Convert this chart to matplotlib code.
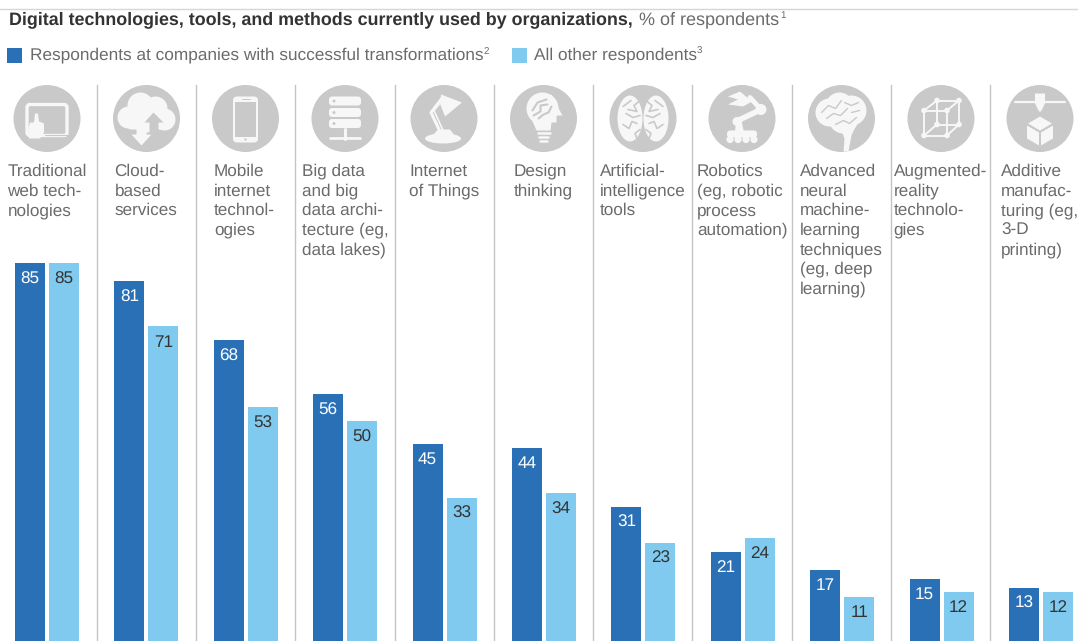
# -*- coding: utf-8 -*-
"""
Digital technologies in use, split by transformation success.
Grouped bars below a row of icon badges and wrapped column headings.
"""
from matplotlib import pyplot as plt
from matplotlib.patches import Circle, Ellipse, FancyBboxPatch, Polygon, Rectangle

CATEGORIES = ['Traditional\nweb tech-\nnologies',
              'Cloud-\nbased\nservices',
              'Mobile\ninternet\ntechnol-\nogies',
              'Big data\nand big\ndata archi-\ntecture (eg,\ndata lakes)',
              'Internet\nof Things',
              'Design\nthinking',
              'Artificial-\nintelligence\ntools',
              'Robotics\n(eg, robotic\nprocess\nautomation)',
              'Advanced\nneural\nmachine-\nlearning\ntechniques\n(eg, deep\nlearning)',
              'Augmented-\nreality\ntechnolo-\ngies',
              'Additive\nmanufac-\nturing (eg,\n3-D\nprinting)']
SUCCESSFUL = [85, 81, 68, 56, 45, 44, 31, 21, 17, 15, 13]
OTHERS = [85, 71, 53, 50, 33, 34, 23, 24, 11, 12, 12]

DARK = '#2a70b6'
LIGHT = '#7fcaee'
BADGE = '#c9c9c9'
GREY_TEXT = '#6b6b6b'
RULE = '#c4c4c4'
WHITE = '#f7f7f7'

LABEL_X = [7.5, 114.5, 214, 301.5, 409, 514, 599.5, 697, 799.5, 893.5, 1001]
BADGE_X = [47, 146.5, 245.5, 345, 444, 543.5, 643, 742, 841.5, 941, 1040]
SEPARATOR_X = [96.5, 196, 295, 394.5, 493.5, 593, 692, 791.5, 891, 990]

plt.rcParams['font.family'] = ['Liberation Sans', 'DejaVu Sans']
plt.rcParams['text.hinting'] = 'no_hinting'
plt.rcParams['text.hinting_factor'] = 8
fig = plt.figure(figsize=(10.78, 6.41), dpi=100)

# bars live on a value scale, 4.5 px per percentage point
ax = fig.add_axes([0, 0, 1, 1])
ax.set_xlim(0, 1078)
ax.set_ylim(5 / 4.5, 646 / 4.5)
ax.axis('off')

# overlay in pixel units for headings and badges
top = fig.add_axes([0, 0, 1, 1], facecolor='none')
top.set_xlim(0, 1078)
top.set_ylim(641, 0)
top.axis('off')


def line(cx, cy, pts, lw=2.0, color=WHITE):
    top.plot([cx + p[0] for p in pts], [cy + p[1] for p in pts], color=color,
             lw=lw, solid_capstyle='round', solid_joinstyle='round')


def poly(cx, cy, pts, color=WHITE):
    top.add_patch(Polygon([(cx + p[0], cy + p[1]) for p in pts], closed=True,
                          fc=color, ec='none'))


def blob(cx, cy, dx, dy, rad, color=WHITE):
    top.add_patch(Circle((cx + dx, cy + dy), rad, fc=color, ec='none'))


def rbox(cx, cy, x0, y0, wid, hei, fc=WHITE, ec='none', lw=0, pad=2):
    top.add_patch(FancyBboxPatch((cx + x0, cy + y0), wid, hei, fc=fc, ec=ec, lw=lw,
                                 boxstyle='round,pad=0,rounding_size=%g' % pad))


def icon_web(cx, cy):
    rbox(cx, cy, -20, -14, 40, 31, fc='none', ec=WHITE, lw=2.4, pad=3)
    poly(cx, cy, [(-17, 4), (-13, 4), (-12, -5), (-9, -5), (-8, 3), (-3, 5),
                  (-3, 14), (-7, 20), (-18, 20), (-19, 12)])
    line(cx, cy, [(-2, 16), (20, 16)], lw=0.8, color=BADGE)


def icon_cloud(cx, cy):
    for dx, dy, rad in [(-18, -1, 11), (-6, -13, 13), (9, -10, 12), (18, 1, 11),
                        (0, 0, 14)]:
        blob(cx, cy, dx, dy, rad)
    rbox(cx, cy, -19, 0, 38, 11, pad=4)
    poly(cx, cy, [(-10, 10), (-10, 16), (-15, 16), (-5, 27), (5, 16), (0, 16), (0, 10)])
    poly(cx, cy, [(7, -6), (17, 4), (12, 4), (12, 16), (3, 16), (3, 4), (-2, 4)], color=BADGE)


def icon_phone(cx, cy):
    rbox(cx, cy, -12.5, -22, 25, 46, pad=4)
    top.add_patch(Rectangle((cx - 10.5, cy - 17), 21, 35, fc=BADGE, ec='none'))
    line(cx, cy, [(-4, -19.5), (4, -19.5)], lw=0.7, color=BADGE)
    blob(cx, cy, 0, 21, 1.2, color=BADGE)


def icon_server(cx, cy):
    for y0 in (-22, -10.5, 0.5):
        rbox(cx, cy, -16, y0, 32, 9, pad=3)
        blob(cx, cy, -11, y0 + 4.5, 1.5, color=BADGE)
    line(cx, cy, [(0, 10), (0, 20)], lw=2.2)
    line(cx, cy, [(-15, 19), (15, 19)], lw=2.0)


def icon_lamp(cx, cy):
    top.add_patch(Ellipse((cx - 1, cy + 20), 36, 10, fc=WHITE, ec='none'))
    poly(cx, cy, [(-13, 19), (-6, 11), (6, 11), (12, 19)])
    line(cx, cy, [(-4, 13), (-13, -6), (-3, -19)], lw=2.2)
    line(cx, cy, [(-1, 12), (-10, -8), (0, -20)], lw=1.2)
    poly(cx, cy, [(-3, -24), (18, -16), (1, -2), (-4, -15)])


def icon_head(cx, cy):
    blob(cx, cy, -1, -10, 16)
    poly(cx, cy, [(-13, -2), (-7, 12), (7, 12), (8, 4), (13, 4), (13, -3), (19, -3),
                  (13, -14), (8, -24), (0, -10)])
    for dy in (14, 18, 22):
        line(cx, cy, [(-6 + (dy - 14) / 3, dy), (6 - (dy - 14) / 3, dy)], lw=1.8)
    for pts in ([(-11, -8), (-6, -16), (3, -19)], [(-10, -3), (-3, -7), (-3, -13), (4, -14)],
                [(-5, 0), (0, -4), (5, -6), (8, -12)]):
        line(cx, cy, pts, lw=1.5, color=BADGE)


def icon_brain(cx, cy):
    top.add_patch(Ellipse((cx - 13, cy), 25, 46, fc=WHITE, ec='none'))
    top.add_patch(Ellipse((cx + 13, cy), 25, 46, fc=WHITE, ec='none'))
    for sign in (-1, 1):
        for pts in ([(3, -18), (9, -13), (6, -7), (15, -9)], [(3, -3), (10, -1), (17, -5)],
                    [(6, 5), (11, 3), (14, 10), (20, 6)], [(3, 11), (8, 15), (6, 20)],
                    [(12, -18), (20, -12)]):
            line(cx, cy, [(sign * p[0], p[1]) for p in pts], lw=1.2, color=BADGE)


def icon_robot(cx, cy):
    for dx in (-12, -4, 4, 12):
        blob(cx, cy, dx, 21, 3.6)
    rbox(cx, cy, -15, 12, 30, 7, pad=3)
    poly(cx, cy, [(-7, 14), (-6, 1), (-1, 0), (2, 14)])
    blob(cx, cy, -5, 3, 4.5)
    line(cx, cy, [(-4, 2), (19, -9)], lw=4)
    blob(cx, cy, 19, -9, 5.5)
    line(cx, cy, [(19, -9), (8, -21)], lw=3.5)
    poly(cx, cy, [(10, -17), (-2, -27), (-14, -22), (-4, -19), (-14, -14), (1, -12)])


def icon_side_brain(cx, cy):
    for dx, dy, rad in [(-12, -6, 14), (-2, -12, 14), (10, -8, 15), (2, 0, 15)]:
        blob(cx, cy, dx, dy, rad)
    poly(cx, cy, [(0, 12), (14, 8), (10, 17), (7, 33), (2, 33), (3, 20)])
    for pts in ([(-20, -6), (-13, -13), (-6, -10), (0, -18)], [(-15, 0), (-8, -5), (-1, -3), (6, -10)],
                [(-6, 6), (2, 2), (8, 5), (15, -1)], [(3, -16), (10, -13), (17, -16)],
                [(10, -6), (18, -8)]):
        line(cx, cy, pts, lw=1.0, color=BADGE)


def icon_cube(cx, cy):
    corners = [(-12, -8), (11, -8), (11, 17), (-12, 17),
               (1, -18), (23, -18), (23, 6), (1, 6)]
    corners = [(p[0] - 5, p[1]) for p in corners]
    for i, j in [(0, 1), (1, 2), (2, 3), (3, 0), (4, 5), (5, 6), (6, 7), (7, 4),
                 (0, 4), (1, 5), (2, 6), (3, 7)]:
        line(cx, cy, [corners[i], corners[j]], lw=1.4)
    for p in corners:
        blob(cx, cy, p[0], p[1], 2.8)


def icon_printer(cx, cy):
    line(cx, cy, [(-25, -17), (25, -17)], lw=1.6)
    poly(cx, cy, [(-5, -25), (5, -25), (5, -15), (1, -7), (-1, -7), (-5, -15)])
    poly(cx, cy, [(0, -2), (12, 5), (0, 12), (-12, 5)])
    poly(cx, cy, [(-13, 7), (-1, 14), (-1, 27), (-13, 20)])
    poly(cx, cy, [(13, 7), (1, 14), (1, 27), (13, 20)])


ICONS = [icon_web, icon_cloud, icon_phone, icon_server, icon_lamp, icon_head,
         icon_brain, icon_robot, icon_side_brain, icon_cube, icon_printer]

# header
top.plot([0, 1078], [9, 9], color='#d6d6d6', lw=1.0)
top.text(9, 19.5, 'Digital technologies, tools, and methods currently used by organizations,',
         fontsize=12.83, fontweight='bold', color='#333333', va='center', ha='left')
top.text(639, 19.5, '% of respondents', fontsize=12.96, color=GREY_TEXT, va='center', ha='left')
top.text(780, 15, '1', fontsize=7, color=GREY_TEXT, va='center', ha='left')

# legend
top.add_patch(Rectangle((7, 48), 15, 15, fc=DARK, ec='none'))
top.text(30, 55.5, 'Respondents at companies with successful transformations', fontsize=12.44,
         color=GREY_TEXT, va='center', ha='left')
top.text(484, 51.5, '2', fontsize=7, color=GREY_TEXT, va='center', ha='left')
top.add_patch(Rectangle((512, 48), 15, 15, fc=LIGHT, ec='none'))
top.text(534, 55.5, 'All other respondents', fontsize=12.44, color=GREY_TEXT, va='center', ha='left')
top.text(697, 51.5, '3', fontsize=7, color=GREY_TEXT, va='center', ha='left')

for sep in SEPARATOR_X:
    top.plot([sep, sep], [85, 641], color=RULE, lw=1.0)

for i, name in enumerate(CATEGORIES):
    top.add_patch(Circle((BADGE_X[i], 118.5), 33.5, fc=BADGE, ec='none'))
    ICONS[i](BADGE_X[i], 118.5)
    for k, row in enumerate(name.split('\n')):
        top.text(LABEL_X[i], 171.5 + 19.6 * k, row, fontsize=12.35, color=GREY_TEXT,
                 va='center', ha='left')

# grouped bars with the value inside each bar top
for i in range(len(CATEGORIES)):
    x_dark = 30 + 99.4 * i
    x_light = 64 + 99.4 * i
    ax.bar(x_dark, SUCCESSFUL[i], width=30, color=DARK)
    ax.bar(x_light, OTHERS[i], width=30, color=LIGHT)
    ax.annotate(str(SUCCESSFUL[i]), (x_dark, SUCCESSFUL[i]), xytext=(0, -16),
                textcoords='offset pixels', ha='center', va='center', fontsize=12.3,
                color='white')
    ax.annotate(str(OTHERS[i]), (x_light, OTHERS[i]), xytext=(0, -16),
                textcoords='offset pixels', ha='center', va='center', fontsize=12.3,
                color='#333333')

fig.savefig('out.png', dpi=100, facecolor='white')
